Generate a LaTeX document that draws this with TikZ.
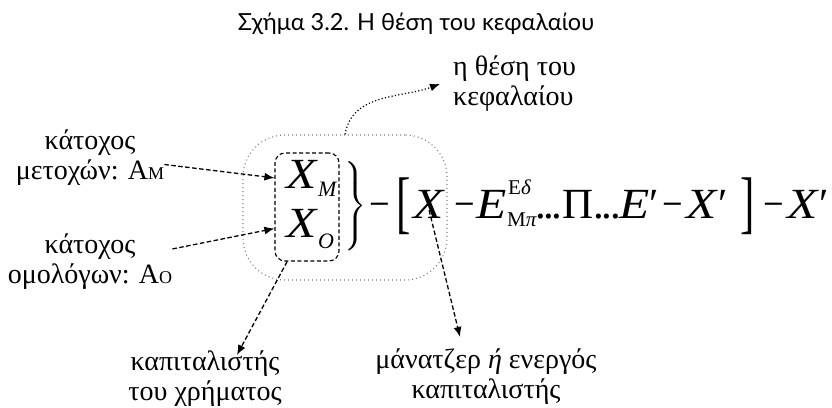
\documentclass[tikz,border=0pt]{standalone}
\usepackage{fontspec}
\usepackage{exscale}
\setmainfont{Liberation Serif}
\newfontfamily\capfont{Lato}
\newfontfamily\fmlfont{Liberation Serif}
\usepackage{graphicx}
\usetikzlibrary{positioning,arrows.meta}
\newcommand{\wi}[1]{\scalebox{1.15}[1]{\textit{#1}}}
\newcommand{\mn}{\scalebox{0.85}[1]{−}}
\newcommand{\tallbr}[1]{\raisebox{-7pt}{\scalebox{1}[1.6]{#1}}}
\newcommand{\tdots}{.\kern-2.5pt.\kern-2.5pt.}

\begin{document}
\begin{tikzpicture}[x=1pt, y=-1pt,
  lbl/.style={font=\fontsize{28}{30}\selectfont, align=center, inner sep=0pt},
  fml/.style={font=\fmlfont\fontsize{43}{43}\selectfont, inner sep=0pt, anchor=base west},
  idx/.style={font=\fmlfont\fontsize{21}{21}\selectfont, inner sep=0pt, anchor=base west},
  darr/.style={dash pattern=on 4.5pt off 2.5pt, line width=1.3pt, -{Latex[length=10pt,width=8pt]}},
  dotarr/.style={dash pattern=on 1.2pt off 2.2pt, line width=1.2pt, -{Latex[length=10pt,width=8pt]}}]
\useasboundingbox (0,0) rectangle (832,407);
\node[font=\capfont\fontsize{23.5}{23.5}\selectfont, inner sep=0pt] (title) at (416,24) {Σχήμα 3.2. Η θέση του κεφαλαίου};
\node[lbl, align=left, anchor=west] (thesi) at (453,84) {η θέση του\\κεφαλαίου};
\node[lbl] (katM) at (90,158) {κάτοχος\\μετοχών: Α{\fontsize{18}{18}\selectfont Μ}};
\node[lbl] (katO) at (90,262) {κάτοχος\\ομολόγων: Α{\fontsize{18}{18}\selectfont Ο}};
\node[lbl] (kapX) at (205,379) {καπιταλιστής\\του χρήματος};
\node[lbl] (manag) at (486,377) {μάνατζερ \textit{ή} ενεργός\\καπιταλιστής};
% the two kinds of money capital
\node[fml] (XM) at (286,188) {\wi{X}\raisebox{-8pt}{\fontsize{22}{22}\selectfont\textit{M}}};
\node[fml] (XO) at (286,237) {\wi{X}\raisebox{-11pt}{\fontsize{22}{22}\selectfont\textit{O}}};
\node[draw, dash pattern=on 4pt off 2.5pt, line width=1.1pt, rounded corners=10pt,
      minimum width=64pt, minimum height=108pt] (grp) at (307,207) {};
\node[draw, gray, dash pattern=on 1pt off 3pt, line width=1.1pt, rounded corners=42pt,
      minimum width=204pt, minimum height=145pt] (cap) at (345,207.5) {};
\node[inner sep=0pt, font=\fontsize{30}{30}\selectfont] (brc) at (355,206) {$\left.\vcenter{\hbox{\rule{0pt}{92pt}}}\right\}$};
% the circuit, piece by piece
\node[fml] (mA) at (369,218) {\mn};
\node[fml] (lbr) at (396,218) {\tallbr{[}};
\node[fml] (xx) at (413,218) {\wi{X}};
\node[fml] (mB) at (454,218) {\mn};
\node[fml] (ee) at (476,218) {\wi{E}};
\node[idx] (esup) at (508,194) {Ε\textit{δ}};
\node[idx] (esub) at (507,226) {Μ\textit{π}};
\node[fml] (pp) at (535,218) {\tdots Π\tdots};
\node[fml] (ee2) at (619,218) {\wi{E}′};
\node[fml] (mC) at (662,218) {\mn};
\node[fml] (xp) at (686,218) {\wi{X}′};
\node[fml] (rbr) at (740,218) {\tallbr{]}};
\node[fml] (mD) at (763,218) {\mn};
\node[fml] (xq) at (787,218) {\wi{X}′};
\draw[darr] (katM.-5) -- (grp.west |- XM);
\draw[darr] (katO.9) -- (grp.west |- XO);
\draw[darr] (grp.-110) -- ([xshift=32pt,yshift=-4pt]kapX.north);
\draw[darr] ([yshift=8pt]xx.south) -- ([xshift=-26pt,yshift=12pt]manag.north);
\draw[dotarr] (cap.north) to[out=80,in=200] ([xshift=-13pt]thesi.west);
\end{tikzpicture}
\end{document}
